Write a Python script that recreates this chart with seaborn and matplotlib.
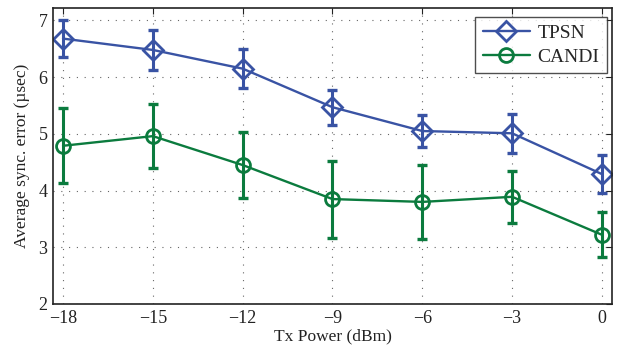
import pandas as pd
import matplotlib
matplotlib.use("Agg")
import matplotlib.pyplot as plt
import seaborn as sns

# data
tx_power = [-18, -15, -12, -9, -6, -3, 0]
tpsn_mean = [6.68, 6.48, 6.15, 5.47, 5.05, 5.01, 4.29]
tpsn_err = [0.32, 0.35, 0.35, 0.31, 0.29, 0.34, 0.34]
candi_mean = [4.79, 4.96, 4.45, 3.85, 3.80, 3.89, 3.22]
candi_err = [0.66, 0.56, 0.58, 0.68, 0.65, 0.46, 0.40]

blue = "#3953a4"
green = "#0b7b3e"

df = pd.DataFrame({
    "tx": tx_power * 2,
    "err_mean": tpsn_mean + candi_mean,
    "err_sd": tpsn_err + candi_err,
    "method": ["TPSN"] * len(tx_power) + ["CANDI"] * len(tx_power),
})

sns.set_style("white")
plt.rcParams["font.family"] = ["Liberation Serif", "DejaVu Serif"]

fig = plt.figure(figsize=(6.18, 3.47), dpi=100)
ax = fig.add_axes([0.086, 0.124, 0.904, 0.853])

sns.lineplot(data=df, x="tx", y="err_mean", hue="method", style="method",
             palette={"TPSN": blue, "CANDI": green},
             markers={"TPSN": "D", "CANDI": "o"}, dashes=False,
             markersize=10, markerfacecolor="none", markeredgewidth=2.0,
             linewidth=1.7, ax=ax, legend=False)

# markers are unfilled; lineplot sets edge color via hue
for line, col in zip(ax.lines, [blue, green]):
    line.set_markeredgecolor(col)
    line.set_markerfacecolor("none")

for name, col in [("TPSN", blue), ("CANDI", green)]:
    sub = df[df["method"] == name]
    ax.errorbar(sub["tx"], sub["err_mean"], yerr=sub["err_sd"], fmt="none",
                ecolor=col, elinewidth=2.2, capsize=3.5, capthick=2.4, zorder=3)

ax.set_xlim(-18.33, 0.33)
ax.set_ylim(2, 7.22)
ax.set_xticks(tx_power)
ax.set_xticklabels(["\u2212" + str(-t) if t < 0 else str(t) for t in tx_power])
ax.set_yticks([2, 3, 4, 5, 6, 7])
ax.grid(True, linestyle=(0, (1, 6)), color="#666666", linewidth=0.8)
ax.tick_params(direction="in", length=4, width=0.8, top=True, right=True,
               labelsize=13, colors="#222222", pad=4)
for s in ax.spines.values():
    s.set_color("#222222")
    s.set_linewidth(1.2)

ax.set_xlabel("Tx Power (dBm)", fontsize=12.5, color="#222222", labelpad=1)
ax.set_ylabel("Average sync. error (\u00b5sec)", fontsize=12.5, color="#222222", labelpad=6)

handles = [
    plt.Line2D([], [], color=blue, marker="D", markersize=10, markerfacecolor="none",
               markeredgewidth=2.0, linewidth=1.7),
    plt.Line2D([], [], color=green, marker="o", markersize=10, markerfacecolor="none",
               markeredgewidth=2.0, linewidth=1.7),
]
leg = ax.legend(handles, ["TPSN", "CANDI"], loc="upper right",
                bbox_to_anchor=(0.992, 0.97), fontsize=14,
                frameon=True, fancybox=False, edgecolor="#222222",
                borderaxespad=0.0, handlelength=2.4, handletextpad=0.4,
                labelspacing=0.3, borderpad=0.4)
leg.get_frame().set_linewidth(1.0)

fig.savefig("out.png", dpi=100)
